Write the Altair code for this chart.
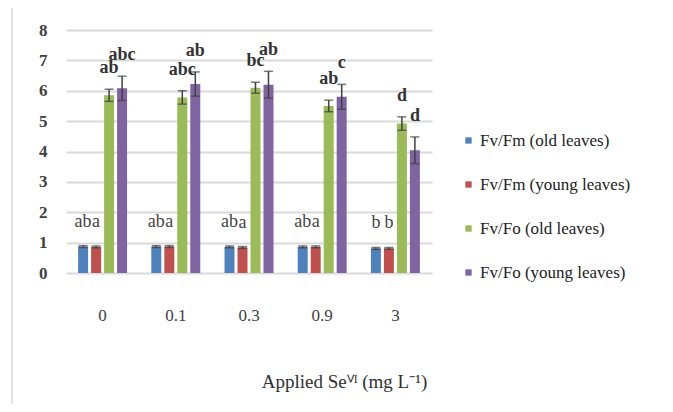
import altair as alt
import pandas as pd

doses = ["0", "0.1", "0.3", "0.9", "3"]
series = ["Fv/Fm (old leaves)", "Fv/Fm (young leaves)", "Fv/Fo (old leaves)", "Fv/Fo (young leaves)"]
colors = ["#4F81BD", "#C0504D", "#9BBB59", "#8064A2"]

fm_old = [0.87, 0.87, 0.86, 0.86, 0.81]
fm_young = [0.86, 0.87, 0.84, 0.86, 0.81]
fo_old = [5.85, 5.78, 6.10, 5.50, 4.92]
fo_young = [6.08, 6.22, 6.20, 5.80, 4.04]

err_fm_old = [0.03, 0.03, 0.03, 0.03, 0.03]
err_fm_young = [0.03, 0.03, 0.03, 0.03, 0.03]
err_fo_old = [0.20, 0.22, 0.18, 0.19, 0.22]
err_fo_young = [0.40, 0.40, 0.44, 0.41, 0.44]

lab_fm_old = ["ab", "ab", "ab", "ab", "b"]
lab_fm_young = ["a", "a", "a", "a", "b"]
lab_fo_old = ["ab", "abc", "bc", "ab", "d"]
lab_fo_young = ["abc", "ab", "ab", "c", "d"]

rows = []
for s, vals, errs, labs in zip(
    series,
    [fm_old, fm_young, fo_old, fo_young],
    [err_fm_old, err_fm_young, err_fo_old, err_fo_young],
    [lab_fm_old, lab_fm_young, lab_fo_old, lab_fo_young],
):
    for d, v, e, l in zip(doses, vals, errs, labs):
        rows.append({"dose": d, "series": s, "value": v, "lo": v - e, "hi": v + e,
                     "label": l, "kind": "Fm" if "Fm" in s else "Fo"})
df = pd.DataFrame(rows)

SERIF = "Liberation Serif"
TXT = "#404040"

x_axis = alt.Axis(title="Applied Se\u2c7d\u1d35 (mg L\u207b\u00b9)",
                  labelAngle=0, labelFont="Liberation Sans Narrow",
                  labelFontSize=17, labelColor=TXT, labelPadding=34,
                  ticks=False, domain=False, grid=False,
                  titleFont=SERIF, titleFontSize=19, titleFontWeight="normal",
                  titleColor="#303030", titleAnchor="middle",
                  titleX=278, titleY=108, titleBaseline="middle")
x_scale = alt.Scale(paddingInner=0.29, paddingOuter=0.145)
y_scale = alt.Scale(domain=[0, 8], nice=False)
y_axis = alt.Axis(title=None, values=[0, 1, 2, 3, 4, 5, 6, 7, 8], labelFont=SERIF,
                  labelFontSize=17, labelFontWeight="bold", labelColor=TXT,
                  labelPadding=19, ticks=False, domain=False, labelOverlap=False,
                  gridColor="#d9d9d9", gridWidth=2)


def X():
    return alt.X("dose:N", sort=doses, scale=x_scale, axis=x_axis)


def XO():
    return alt.XOffset("series:N", sort=series,
                       scale=alt.Scale(paddingInner=0.23, paddingOuter=0.115))


def Y(field):
    return alt.Y(field, type="quantitative", scale=y_scale, axis=y_axis)


base = alt.Chart(df)

bars = base.mark_bar().encode(
    x=X(), xOffset=XO(), y=Y("value"),
    color=alt.Color("series:N", sort=series,
                    scale=alt.Scale(domain=series, range=colors),
                    legend=alt.Legend(title=None, orient="none", legendX=394, legendY=102,
                                      symbolType="square", symbolSize=40, symbolStrokeWidth=0,
                                      labelFont=SERIF, labelFontSize=17, labelColor="#222222",
                                      rowPadding=26, labelOffset=3)),
)

rules = base.mark_rule(color="#404040", strokeWidth=1.5).encode(
    x=X(), xOffset=XO(), y=Y("lo"), y2="hi:Q",
)
caps_hi = base.mark_tick(color="#404040", thickness=1.5, size=9).encode(
    x=X(), xOffset=XO(), y=Y("hi"),
)
caps_lo = base.mark_tick(color="#404040", thickness=1.5, size=9).encode(
    x=X(), xOffset=XO(), y=Y("lo"),
)

labels_fo = base.transform_filter(alt.datum.kind == "Fo").mark_text(
    font=SERIF, fontSize=18, fontWeight="bold", color="#333333", dy=-21, baseline="middle"
).encode(x=X(), xOffset=XO(), y=Y("hi"), text="label:N")

labels_fm = base.transform_filter(alt.datum.kind == "Fm").mark_text(
    font=SERIF, fontSize=18, color="#444444", dy=-24, baseline="middle"
).encode(x=X(), xOffset=XO(), y=Y("hi"), text="label:N")

border = alt.Chart(pd.DataFrame({"a": [0]})).mark_rule(color="#c8c8c8", strokeWidth=1).encode(
    x=alt.value(-54), y=alt.value(-22), y2=alt.value(390)
)

chart = alt.layer(bars, rules, caps_hi, caps_lo, labels_fm, labels_fo, border).properties(
    width=366, height=243,
    autosize=alt.AutoSizeParams(type="none"),
    padding={"left": 58, "top": 22, "right": 233, "bottom": 131},
).configure_view(stroke=None)

chart.save("out.html", embed_options={"renderer": "svg", "actions": False})
